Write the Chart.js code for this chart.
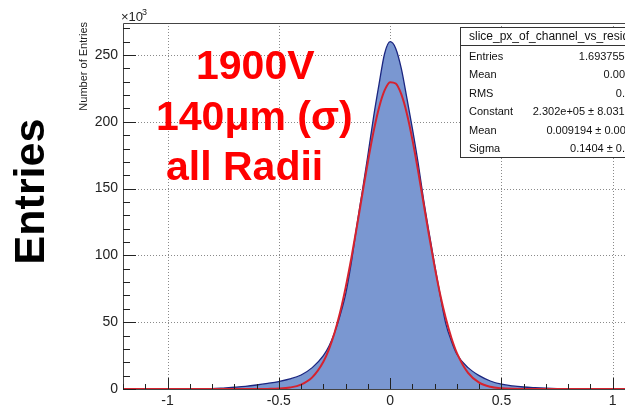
<!DOCTYPE html>
<html>
<head>
<meta charset="utf-8">
<script src="https://cdn.jsdelivr.net/npm/chart.js@4.4.1/dist/chart.umd.min.js"></script>
<style>
  html, body { margin: 0; padding: 0; background: #fff; overflow: hidden; }
  #wrap { width: 625px; height: 411px; position: relative; }
</style>
</head>
<body>
<div id="wrap"><canvas id="residChart" width="625" height="411"></canvas></div>
<script>
// histogram of residuals (units of 10^3 entries)
const histX = [-1.2, -0.9, -0.8, -0.75, -0.7, -0.65, -0.6, -0.55, -0.5, -0.45, -0.4, -0.35, -0.3, -0.275, -0.25, -0.225, -0.2,
  -0.175, -0.15, -0.125, -0.1, -0.075, -0.05, -0.025, 0, 0.025, 0.05, 0.075, 0.1, 0.125, 0.15, 0.175, 0.2, 0.225, 0.25,
  0.275, 0.3, 0.35, 0.4, 0.45, 0.5, 0.55, 0.6, 0.65, 0.7, 0.75, 0.8, 0.9, 1.0, 1.1];
const histY = [0, 0, 0.2, 0.7, 1.3, 2, 3, 4.2, 5.6, 7.5, 10.5, 16, 25, 32, 42, 55, 71,
  94, 122, 148, 175, 203, 228, 251, 260, 255, 240, 218, 195, 170, 142, 117, 93, 70, 49,
  36, 26, 16, 10, 6, 3.6, 2.3, 1.5, 1, 0.6, 0.35, 0.2, 0.1, 0, 0];

// gaussian fit curve
const fitX = [-1.2, -0.6, -0.55, -0.5, -0.45, -0.4, -0.35, -0.3, -0.275, -0.25, -0.225, -0.2, -0.175, -0.15, -0.125, -0.1,
  -0.075, -0.05, -0.025, 0, 0.025, 0.05, 0.075, 0.1, 0.125, 0.15, 0.175, 0.2, 0.225, 0.25, 0.275, 0.3, 0.35, 0.4, 0.45,
  0.5, 0.55, 0.6, 1.1];
const fitY = [0, 0.02, 0.09, 0.3, 1.1, 3.3, 8.7, 20.4, 29.7, 41.9, 57.2, 75.9, 97.3, 121, 145.8, 170.1,
  192.3, 210.6, 223.5, 229.7, 228.7, 220.7, 206.3, 186.7, 163.8, 139.2, 114.6, 91.4, 70.6, 52.9, 38.4, 26.9, 12.1, 4.8, 1.66,
  0.51, 0.1, 0.02, 0];

const xTicks = [-1, -0.5, 0, 0.5, 1];
const xTickLabels = ['-1', '-0.5', '0', '0.5', '1'];
const yTicks = [0, 50, 100, 150, 200, 250];
const yTickLabels = ['0', '50', '100', '150', '200', '250'];

const statsTitle = 'slice_px_of_channel_vs_residual';
const statsNames = ['Entries', 'Mean', 'RMS', 'Constant', 'Mean', 'Sigma'];
const statsValues = ['1.693755e+06', '0.004527', '0.1756', '2.302e+05 \u00b1 8.031e+02', '0.009194 \u00b1 0.000115', '0.1404 \u00b1 0.0001'];

const noteLines = ['1900V', '140\u03bcm (\u03c3)', 'all Radii'];

const FONT = '"Liberation Sans", Arial, Helvetica, sans-serif';

const rootFrame = {
  id: 'rootFrame',
  beforeDatasetsDraw(chart) {
    const { ctx, chartArea: a, scales: { x, y } } = chart;
    ctx.save();
    // dotted grid
    ctx.strokeStyle = '#8a8a8a';
    ctx.lineWidth = 1;
    ctx.setLineDash([1, 2]);
    xTicks.forEach((v) => {
      const px = Math.round(x.getPixelForValue(v)) + 0.5;
      ctx.beginPath();
      ctx.moveTo(px, a.top);
      ctx.lineTo(px, a.bottom);
      ctx.stroke();
    });
    yTicks.slice(1).forEach((v) => {
      const py = Math.round(y.getPixelForValue(v)) + 0.5;
      ctx.beginPath();
      ctx.moveTo(a.left, py);
      ctx.lineTo(a.right, py);
      ctx.stroke();
    });
    ctx.setLineDash([]);
    // frame
    ctx.strokeStyle = '#444';
    ctx.beginPath();
    ctx.moveTo(a.left + 0.5, a.bottom);
    ctx.lineTo(a.left + 0.5, a.top + 0.5);
    ctx.lineTo(a.right, a.top + 0.5);
    ctx.moveTo(a.left, a.bottom + 0.5);
    ctx.lineTo(a.right, a.bottom + 0.5);
    ctx.stroke();
    ctx.restore();
  },
  afterDatasetsDraw(chart) {
    const { ctx, chartArea: a, scales: { x, y } } = chart;
    ctx.save();
    ctx.strokeStyle = '#222';
    ctx.lineWidth = 1;
    // x ticks, minor every 0.1
    for (let i = -12; i <= 10; i++) {
      const v = i / 10;
      const px = Math.round(x.getPixelForValue(v)) + 0.5;
      const len = i % 5 === 0 ? 11 : 5;
      ctx.beginPath();
      ctx.moveTo(px, a.bottom);
      ctx.lineTo(px, a.bottom - len);
      ctx.stroke();
    }
    // y ticks, minor every 10
    for (let v = 0; v <= 270; v += 10) {
      const py = Math.round(y.getPixelForValue(v)) + 0.5;
      const len = v % 50 === 0 ? 13 : 7;
      ctx.beginPath();
      ctx.moveTo(a.left, py);
      ctx.lineTo(a.left + len, py);
      ctx.stroke();
    }
    // tick labels
    ctx.fillStyle = '#222';
    ctx.font = `14px ${FONT}`;
    ctx.textAlign = 'center';
    ctx.textBaseline = 'middle';
    xTicks.forEach((v, i) => ctx.fillText(xTickLabels[i], x.getPixelForValue(v), 401));
    ctx.textAlign = 'right';
    yTicks.forEach((v, i) => ctx.fillText(yTickLabels[i], 118, y.getPixelForValue(v)));
    // x10^3
    ctx.textAlign = 'left';
    ctx.textBaseline = 'alphabetic';
    ctx.font = `13px ${FONT}`;
    ctx.fillText('\u00d710', 121, 21);
    ctx.font = `9px ${FONT}`;
    ctx.fillText('3', 142, 15);
    // small axis title
    ctx.save();
    ctx.translate(84, 22);
    ctx.rotate(-Math.PI / 2);
    ctx.font = `11px ${FONT}`;
    ctx.textAlign = 'right';
    ctx.textBaseline = 'middle';
    ctx.fillText('Number of Entries', 0, 0);
    ctx.restore();
    // big side label
    ctx.save();
    ctx.translate(43.5, 191.5);
    ctx.rotate(-Math.PI / 2);
    ctx.fillStyle = '#000';
    ctx.font = `bold 43px ${FONT}`;
    ctx.textAlign = 'center';
    ctx.textBaseline = 'alphabetic';
    ctx.fillText('Entries', 0, 0);
    ctx.restore();
    // red notes
    ctx.fillStyle = '#ff0000';
    ctx.font = `bold 41px ${FONT}`;
    ctx.textAlign = 'left';
    ctx.fillText(noteLines[0], 196, 79);
    ctx.fillText(noteLines[1], 156, 130);
    ctx.fillText(noteLines[2], 166, 180);
    // stats box
    const bx = 460.5, by = 27.5, bw = 200, bh = 130;
    ctx.fillStyle = '#fff';
    ctx.fillRect(bx, by, bw, bh);
    ctx.strokeStyle = '#333';
    ctx.strokeRect(bx, by, bw, bh);
    ctx.beginPath();
    ctx.moveTo(bx, 45.5);
    ctx.lineTo(bx + bw, 45.5);
    ctx.stroke();
    ctx.fillStyle = '#111';
    ctx.textBaseline = 'middle';
    ctx.font = `12px ${FONT}`;
    ctx.fillText(statsTitle, 469, 36.5);
    ctx.font = `11px ${FONT}`;
    statsNames.forEach((name, i) => {
      const ry = 56.5 + i * 18.5;
      ctx.textAlign = 'left';
      ctx.fillText(name, 469, ry);
      ctx.textAlign = 'right';
      ctx.fillText(statsValues[i], 649.5, ry);
    });
    ctx.restore();
  },
};

const histPoints = histX.map((x, i) => ({ x, y: histY[i] }));
const fitPoints = fitX.map((x, i) => ({ x, y: fitY[i] }));

new Chart(document.getElementById('residChart').getContext('2d'), {
  type: 'line',
  data: {
    datasets: [
      {
        data: histPoints,
        order: 2,
        borderColor: '#1b2680',
        backgroundColor: '#7a97d1',
        fill: 'origin',
        borderWidth: 1.3,
        pointRadius: 0,
        cubicInterpolationMode: 'monotone',
      },
      {
        data: fitPoints,
        order: 1,
        borderColor: '#d6222e',
        fill: false,
        borderWidth: 2,
        pointRadius: 0,
        cubicInterpolationMode: 'monotone',
      },
    ],
  },
  options: {
    responsive: false,
    animation: false,
    layout: { padding: { left: 123, top: 23, right: 0, bottom: 22 } },
    scales: {
      x: { type: 'linear', min: -1.2, max: 1.055, display: false },
      y: { min: 0, max: 274, display: false },
    },
    plugins: { legend: { display: false }, tooltip: { enabled: false } },
  },
  plugins: [rootFrame],
});
</script>
</body>
</html>
